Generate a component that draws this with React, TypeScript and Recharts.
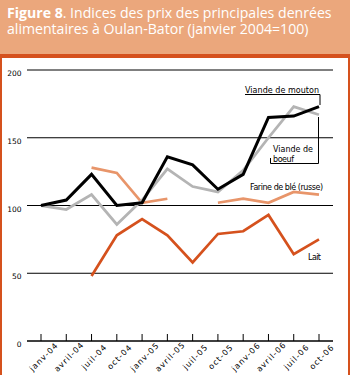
import { CartesianGrid, Line, LineChart, XAxis, YAxis } from "recharts";

// mois (axe des x)
const months = [
  "janv-04", "avril-04", "juil-04", "oct-04",
  "janv-05", "avril-05", "juil-05", "oct-05",
  "janv-06", "avril-06", "juil-06", "oct-06",
];

// indices (janvier 2004 = 100)
const mouton = [100, 104, 123, 100, 102, 136, 130, 112, 123, 165, 166, 173];
const boeuf = [100, 97, 108, 86, 104, 127, 114, 110, 126, 150, 173, 167];
const farine = [null, null, 128, 124, 102, 105, null, 102, 105, 102, 110, 108];
const lait = [null, null, 48, 78, 90, 78, 58, 79, 81, 93, 64, 75];

const yTicks = [0, 50, 100, 150, 200];

const data = months.map((m, i) => ({
  month: m,
  mouton: mouton[i],
  boeuf: boeuf[i],
  farine: farine[i],
  lait: lait[i],
}));

const HEADER = "#eba77c";
const RUST = "#d5511d";
const SMALL = "'DejaVu Sans', sans-serif";

const XTick = (p: any) => {
  const { x, y, payload } = p;
  return (
    <g>
      <line x1={x} x2={x} y1={y} y2={y - 7} stroke="#000" strokeWidth={1} />
      <g transform={`translate(${x + 3}, ${y + 16}) rotate(-45)`}>
        <text x={0} y={0} dy={2.5} textAnchor="middle" fontSize={8} letterSpacing={1} fontFamily={SMALL} fill="#000">
          {payload.value}
        </text>
      </g>
    </g>
  );
};

const YTick = (p: any) => (
  <text x={p.x} y={p.y + 6} textAnchor="end" fontSize={7.5} fontFamily={SMALL} fill="#000">
    {p.payload.value}
  </text>
);

const titleLine = {
  position: "absolute" as const,
  left: 7,
  fontFamily: "'Open Sans', sans-serif",
  fontSize: 15,
  lineHeight: "15.5px",
  color: "#fff",
  whiteSpace: "nowrap" as const,
  transform: "scaleX(0.94)",
  transformOrigin: "0 0",
};

export default function App() {
  return (
    <div
      style={{
        position: "absolute",
        left: 0,
        top: 0,
        width: 350,
        height: 375,
        background: "#fff",
        overflow: "hidden",
      }}
    >
      {/* bandeau du titre */}
      <div style={{ position: "absolute", left: 0, top: 0, width: 350, height: 54, background: HEADER }} />
      <div style={{ position: "absolute", left: 0, top: 54, width: 350, height: 4, background: RUST }} />
      <div style={{ position: "absolute", left: 0, top: 54, width: 2, height: 321, background: RUST }} />
      <div style={{ position: "absolute", left: 348, top: 54, width: 2, height: 321, background: RUST }} />
      <div style={{ ...titleLine, top: 5.4 }}>
        <b>Figure 8</b>
        <span>. Indices des prix des principales denrées</span>
      </div>
      <div style={{ ...titleLine, top: 20.9 }}>
        <span>alimentaires à Oulan-Bator (janvier 2004=100)</span>
      </div>

      <div style={{ position: "absolute", left: 0, top: 0 }}>
        <LineChart
          width={350}
          height={375}
          data={data}
          margin={{ top: 70, right: 17, bottom: 4, left: 0 }}
        >
          <CartesianGrid horizontal vertical={false} stroke="#000" strokeWidth={1} />
          <XAxis
            dataKey="month"
            height={30}
            padding={{ left: 14, right: 14 }}
            axisLine={{ stroke: "#000", strokeWidth: 1 }}
            tickLine={false}
            tickSize={0}
            tickMargin={0}
            interval={0}
            tick={<XTick />}
          />
          <YAxis
            width={27}
            domain={[0, 200]}
            ticks={yTicks}
            axisLine={false}
            tickLine={false}
            tickSize={0}
            tickMargin={5.5}
            tick={<YTick />}
          />
          <Line dataKey="farine" stroke="#e8956a" strokeWidth={2.7} dot={false} isAnimationActive={false} />
          <Line dataKey="lait" stroke={RUST} strokeWidth={2.7} dot={false} isAnimationActive={false} />
          <Line dataKey="boeuf" stroke="#b4b4b4" strokeWidth={2.8} dot={false} isAnimationActive={false} />
          <Line dataKey="mouton" stroke="#000" strokeWidth={3} dot={false} isAnimationActive={false} />
        </LineChart>
      </div>

      {/* étiquettes des séries */}
      <svg width={350} height={375} style={{ position: "absolute", left: 0, top: 0, pointerEvents: "none" }}>
        <g fontFamily={SMALL} fontSize={8} fill="#000">
          <text x={245} y={92.5} textLength={74} lengthAdjust="spacing">Viande de mouton</text>
          <text x={273} y={151.5} textLength={40} lengthAdjust="spacing">Viande de</text>
          <text x={273} y={161.5} textLength={21} lengthAdjust="spacing">boeuf</text>
          <text x={250} y={190} textLength={73} lengthAdjust="spacing">Farine de blé (russe)</text>
          <text x={308} y={260} textLength={13} lengthAdjust="spacing">Lait</text>
        </g>
        <polyline points="245,94.5 320,94.5 320,105" fill="none" stroke="#000" strokeWidth={1} />
        <polyline points="270.5,158 270.5,163.5 318.5,163.5 318.5,117" fill="none" stroke="#000" strokeWidth={1} />
      </svg>
    </div>
  );
}
